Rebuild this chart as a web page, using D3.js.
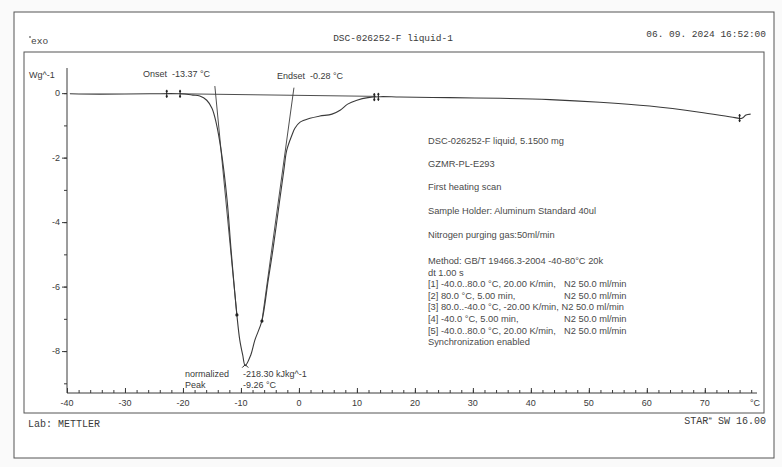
<!DOCTYPE html>
<html>
<head>
<meta charset="utf-8">
<script src="https://cdn.jsdelivr.net/npm/d3@7/dist/d3.min.js"></script>
<style>
  html, body { margin: 0; padding: 0; background: #fafafa; }
  svg { display: block; }
</style>
</head>
<body>
<div id="chart"></div>
<script>
// DSC curve (temperature in °C, heat flow in W/g)
const temperature = [-39.5, -34.3, -25.7, -20.5, -18.3, -17.1, -15.9, -15.0, -14.3, -13.4, -12.4, -11.7,
  -10.7, -10.2, -9.7, -9.26, -8.3, -7.6, -6.4, -5.3, -4.5, -3.3, -2.6, -2.1, -1.2, -0.7, 0.2, 1.9,
  3.6, 5.7, 7.1, 8.4, 10.0, 11.9, 14.0, 17.4, 26.0, 34.7, 43.3, 51.9, 60.5, 69.1, 75.2, 76.4, 77.1, 77.9];
const heatFlow = [-0.02, -0.03, -0.02, -0.02, -0.06, -0.09, -0.22, -0.47, -0.9, -1.8, -3.3, -4.87,
  -6.88, -7.66, -8.12, -8.45, -8.12, -7.66, -7.07, -5.8, -4.87, -3.3, -2.39, -1.77, -1.3, -1.09, -0.9, -0.78,
  -0.71, -0.65, -0.53, -0.34, -0.22, -0.14, -0.11, -0.12, -0.14, -0.16, -0.2, -0.28, -0.4, -0.59, -0.76, -0.78, -0.68, -0.65];

// evaluation lines
const baselineT = [-20.5, 13.3];
const baselineV = [-0.02, -0.1];
const onsetT = [-14.5, -10.7];
const onsetV = [0.22, -6.88];
const endsetT = [-0.86, -6.38];
const endsetV = [0.17, -7.07];
const inflectionT = [-10.7, -6.38];
const inflectionV = [-6.88, -7.07];
const limitMarkersT = [-22.8, -20.5, 13.0, 13.7, 76.0];
const peakT = -9.26, peakV = -8.45;

const xTickLabels = [-40, -30, -20, -10, 0, 10, 20, 30, 40, 50, 60, 70];
const yTickLabels = [0, -2, -4, -6, -8];

const infoLines = [
  "DSC-026252-F liquid, 5.1500 mg",
  "GZMR-PL-E293",
  "First heating scan",
  "Sample Holder: Aluminum Standard 40ul",
  "Nitrogen purging gas:50ml/min"
];
const methodLines = [
  ["Method: GB/T 19466.3-2004 -40-80°C 20k", ""],
  ["dt 1.00 s", ""],
  ["[1] -40.0..80.0 °C, 20.00 K/min,", "N2 50.0 ml/min"],
  ["[2] 80.0 °C, 5.00 min,", "N2 50.0 ml/min"],
  ["[3] 80.0..-40.0 °C, -20.00 K/min, N2 50.0 ml/min", ""],
  ["[4] -40.0 °C, 5.00 min,", "N2 50.0 ml/min"],
  ["[5] -40.0..80.0 °C, 20.00 K/min,", "N2 50.0 ml/min"],
  ["Synchronization enabled", ""]
];

const W = 782, H = 467;
const ink = "#3a3a3a";
const mono = "'Liberation Mono', 'DejaVu Sans Mono', monospace";
const sans = "'Liberation Sans', Arial, sans-serif";

const svg = d3.select("#chart").append("svg")
  .attr("width", W).attr("height", H);

// frames
svg.append("rect").attr("x", 14).attr("y", 12).attr("width", 760).attr("height", 446)
  .attr("fill", "#fff").attr("stroke", "#555").attr("stroke-width", 1);
svg.append("rect").attr("x", 24).attr("y", 52).attr("width", 740).attr("height", 361)
  .attr("fill", "none").attr("stroke", "#555").attr("stroke-width", 1);

// header
svg.append("line").attr("x1", 29).attr("x2", 31).attr("y1", 37).attr("y2", 37).attr("stroke", ink);
svg.append("text").attr("x", 31).attr("y", 44).text("exo")
  .attr("font-family", mono).attr("font-size", 9.5).attr("fill", ink);
svg.append("text").attr("x", 393).attr("y", 41).attr("text-anchor", "middle")
  .text("DSC-026252-F liquid-1")
  .attr("font-family", mono).attr("font-size", 9.5).attr("fill", ink);
svg.append("text").attr("x", 766).attr("y", 37).attr("text-anchor", "end")
  .text("06. 09. 2024 16:52:00")
  .attr("font-family", mono).attr("font-size", 9.5).attr("fill", ink);

// scales
const x = d3.scaleLinear().domain([-40, 79]).range([67, 757]);
const y = d3.scaleLinear().domain([-9.3, 0.78]).range([393, 68]);

// axes
const xAxis = svg.append("g").attr("transform", `translate(0,${y(-9.3)})`);
xAxis.call(d3.axisTop(x).tickValues(d3.range(-40, 79, 2)).tickSize(3).tickFormat(""))
  .call(g => g.select(".domain").remove());
xAxis.append("g").call(d3.axisTop(x).tickValues(xTickLabels).tickSize(5).tickFormat(""))
  .call(g => g.select(".domain").remove());
xAxis.append("line").attr("x1", x(-40)).attr("x2", x(79)).attr("stroke", ink);
xAxis.selectAll(".tick line").attr("stroke", ink);
xAxis.append("g").selectAll("text").data(xTickLabels).join("text")
  .attr("x", d => x(d)).attr("y", 13).attr("text-anchor", "middle")
  .text(d => d)
  .attr("font-family", sans).attr("font-size", 9).attr("fill", ink);
xAxis.append("text").attr("x", 755).attr("y", 13).attr("text-anchor", "middle").text("°C")
  .attr("font-family", sans).attr("font-size", 9).attr("fill", ink);

const yAxis = svg.append("g").attr("transform", `translate(${x(-40)},0)`);
yAxis.call(d3.axisLeft(y).tickValues(d3.range(-9, 1, 1)).tickSize(3).tickFormat(""))
  .call(g => g.select(".domain").remove());
yAxis.append("g").call(d3.axisLeft(y).tickValues(yTickLabels).tickSize(5).tickFormat(""))
  .call(g => g.select(".domain").remove());
yAxis.append("line").attr("y1", y(0.78)).attr("y2", y(-9.3)).attr("stroke", ink);
yAxis.selectAll(".tick line").attr("stroke", ink);
yAxis.append("g").selectAll("text").data(yTickLabels).join("text")
  .attr("x", -7).attr("y", d => y(d) + 3).attr("text-anchor", "end")
  .text(d => d)
  .attr("font-family", sans).attr("font-size", 9).attr("fill", ink);
svg.append("text").attr("x", 29).attr("y", 78).text("Wg^-1")
  .attr("font-family", sans).attr("font-size", 9).attr("fill", ink);

// curve
const pts = temperature.map((t, i) => [t, heatFlow[i]]);
const line = d3.line().x(d => x(d[0])).y(d => y(d[1])).curve(d3.curveCatmullRom.alpha(0.5));
svg.append("path").datum(pts).attr("d", line)
  .attr("fill", "none").attr("stroke", ink).attr("stroke-width", 1.1);

// evaluation lines
const straight = d3.line().x(d => x(d[0])).y(d => y(d[1]));
[[baselineT, baselineV], [onsetT, onsetV], [endsetT, endsetV]].forEach(([ts, vs]) => {
  svg.append("path").datum(ts.map((t, i) => [t, vs[i]])).attr("d", straight)
    .attr("fill", "none").attr("stroke", ink).attr("stroke-width", 0.9);
});
svg.selectAll(".infl").data(inflectionT).join("circle")
  .attr("cx", d => x(d)).attr("cy", (d, i) => y(inflectionV[i])).attr("r", 1.6).attr("fill", "#222");

// limit markers
const curveAt = t => d3.scaleLinear().domain(temperature).range(heatFlow)(t);
limitMarkersT.forEach(t => {
  const cx = x(t), cy = y(curveAt(t));
  svg.append("line").attr("x1", cx).attr("x2", cx).attr("y1", cy - 4).attr("y2", cy + 4)
    .attr("stroke", "#222").attr("stroke-width", 1);
  svg.append("circle").attr("cx", cx).attr("cy", cy - 2.5).attr("r", 1.1).attr("fill", "#222");
  svg.append("circle").attr("cx", cx).attr("cy", cy + 2.5).attr("r", 1.1).attr("fill", "#222");
});
// peak mark
svg.append("path")
  .attr("d", `M${x(peakT) - 3},${y(peakV) + 2}L${x(peakT)},${y(peakV) - 1}L${x(peakT) + 3},${y(peakV) + 2}`)
  .attr("fill", "none").attr("stroke", "#222");

// annotations
const ann = (tx, ty, s) => svg.append("text").attr("x", tx).attr("y", ty).text(s)
  .attr("font-family", sans).attr("font-size", 9).attr("fill", ink);
ann(143, 77, "Onset");
ann(172, 77, "-13.37 °C");
ann(277, 79, "Endset");
ann(310, 79, "-0.28 °C");
ann(185, 377, "normalized");
ann(243, 377, "-218.30 kJkg^-1");
ann(185, 388, "Peak");
ann(243, 388, "-9.26 °C");

// info block
const info = svg.append("g").attr("font-family", sans).attr("font-size", 9.3).attr("fill", "#4a4a4a");
const infoY = [144, 167, 190, 214, 238];
info.selectAll(".info").data(infoLines).join("text")
  .attr("x", 428).attr("y", (d, i) => infoY[i]).text(d => d);
methodLines.forEach((m, i) => {
  const ty = 264 + i * 11.6;
  info.append("text").attr("x", 428).attr("y", ty).text(m[0]);
  if (m[1]) info.append("text").attr("x", 564).attr("y", ty).text(m[1]);
});

// footer
svg.append("text").attr("x", 28).attr("y", 427).text("Lab: METTLER")
  .attr("font-family", mono).attr("font-size", 10).attr("fill", ink);
const star = svg.append("text").attr("x", 766).attr("y", 424).attr("text-anchor", "end")
  .attr("font-family", mono).attr("font-size", 10).attr("fill", ink);
star.append("tspan").text("STAR");
star.append("tspan").attr("font-size", 6).attr("dy", -4).text("e");
star.append("tspan").attr("dy", 4).text(" SW 16.00");
</script>
</body>
</html>
